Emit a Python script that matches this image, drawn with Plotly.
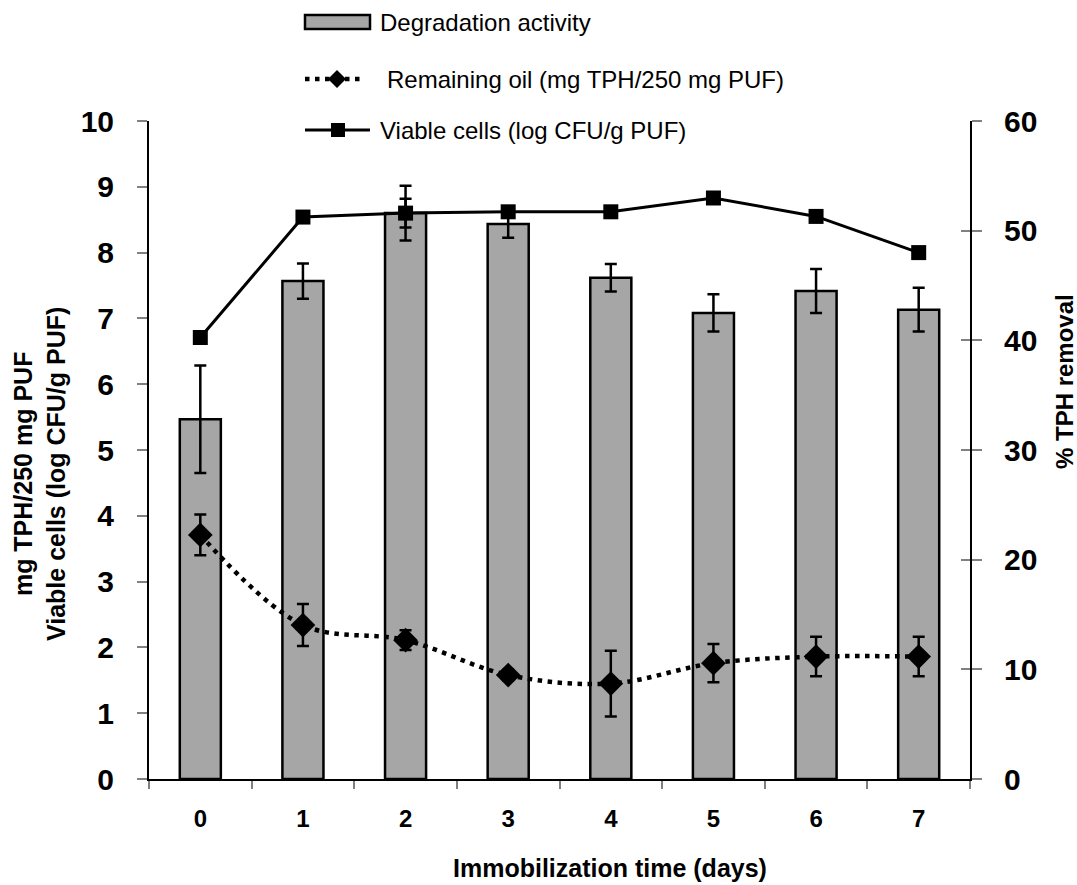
import plotly.graph_objects as go

# Immobilization time (days)
days = ["0", "1", "2", "3", "4", "5", "6", "7"]

# Degradation activity (% TPH removal) with standard deviations
removal = [32.8, 45.4, 51.6, 50.6, 45.7, 42.5, 44.5, 42.8]
removal_sd = [4.9, 1.6, 2.5, 1.25, 1.25, 1.7, 2.0, 2.0]

# Remaining oil (mg TPH/250 mg PUF)
oil = [3.71, 2.34, 2.11, 1.58, 1.45, 1.76, 1.86, 1.86]
oil_sd = [0.31, 0.32, 0.15, 0.08, 0.50, 0.29, 0.30, 0.30]

# Viable cells (log CFU/g PUF)
cells = [6.71, 8.54, 8.60, 8.62, 8.62, 8.83, 8.55, 8.00]
cells_sd = [0.0, 0.0, 0.22, 0.0, 0.0, 0.08, 0.0, 0.0]

legend_labels = [
    "Degradation activity",
    "Remaining oil (mg TPH/250 mg PUF)",
    "Viable cells (log CFU/g PUF)",
]

W, H = 1077, 885
L, R, T, B = 149, 970, 121, 779  # plot area edges in pixels
FONT = "Liberation Sans, Arial, sans-serif"


def fx(px):
    return (px - L) / (R - L)


def fy(py):
    return (B - py) / (B - T)


fig = go.Figure()

# Bars on the base (right-hand) axis so the line series stay on top
fig.add_trace(go.Bar(
    x=days, y=removal, width=0.4,
    marker=dict(color="#a6a6a6", line=dict(color="black", width=2.5)),
    error_y=dict(type="data", array=removal_sd, color="black", thickness=2.5, width=6),
    xaxis="x", yaxis="y", showlegend=False,
))

fig.add_trace(go.Scatter(
    x=days, y=oil, mode="lines+markers",
    line=dict(color="black", width=4.5, dash="4.5px,5.5px", shape="spline", smoothing=1.0),
    marker=dict(symbol="diamond", size=19, color="black"),
    error_y=dict(type="data", array=oil_sd, color="black", thickness=2.5, width=6),
    xaxis="x", yaxis="y2", showlegend=False,
))

fig.add_trace(go.Scatter(
    x=days, y=cells, mode="lines+markers",
    line=dict(color="black", width=3),
    marker=dict(symbol="square", size=15, color="black"),
    error_y=dict(type="data", array=cells_sd, color="black", thickness=2.5, width=6),
    xaxis="x", yaxis="y2", showlegend=False,
))

# Empty trace that carries the inner tick marks of the right axis
fig.add_trace(go.Scatter(x=[], y=[], xaxis="x", yaxis="y3", showlegend=False, hoverinfo="skip"))

tick_font_y = dict(family=FONT, size=30, color="black", weight="bold")

fig.update_layout(
    width=W, height=H,
    margin=dict(l=L, r=W - R, t=T, b=H - B, pad=0),
    paper_bgcolor="white", plot_bgcolor="white",
    showlegend=False,
    bargap=0.6,
    xaxis=dict(
        type="category", range=[-0.5, 7.5],
        tickson="boundaries", ticks="outside", ticklen=8, tickwidth=1.5, tickcolor="#808080",
        showline=True, linecolor="black", linewidth=2,
        showgrid=False, zeroline=False,
        tickfont=dict(family=FONT, size=24, color="black", weight="bold"),
        ticklabelstandoff=17,
    ),
    yaxis=dict(
        side="right", range=[0, 60], dtick=10,
        ticks="outside", ticklen=10, tickwidth=1.5, tickcolor="#808080",
        showline=True, linecolor="black", linewidth=2,
        showgrid=False, zeroline=False,
        tickfont=tick_font_y, ticklabelstandoff=16,
    ),
    yaxis2=dict(
        overlaying="y", side="left", range=[0, 10], dtick=1,
        ticks="outside", ticklen=10, tickwidth=1.5, tickcolor="#808080",
        showline=True, linecolor="black", linewidth=2,
        showgrid=False, zeroline=False,
        tickfont=tick_font_y, ticklabelstandoff=17,
    ),
    yaxis3=dict(
        overlaying="y", side="right", range=[0, 60], dtick=10,
        ticks="inside", ticklen=9, tickwidth=1.5, tickcolor="#808080",
        showticklabels=False, showline=False, showgrid=False, zeroline=False,
    ),
)

annotations = [
    dict(text="Immobilization time (days)", x=fx(610), y=fy(868),
         font=dict(family=FONT, size=25, color="black", weight="bold")),
    dict(text="mg TPH/250 mg PUF<br>Viable cells (log CFU/g PUF)", x=fx(39), y=fy(474),
         textangle=-90, font=dict(family=FONT, size=25, color="black", weight="bold")),
    dict(text="% TPH removal", x=fx(1064), y=fy(382),
         textangle=-90, font=dict(family=FONT, size=24, color="black", weight="bold")),
]
for a in annotations:
    a.update(xref="paper", yref="paper", showarrow=False, xanchor="center", yanchor="middle")

# Legend rows: symbol sample followed by its label
row_y = [22, 79, 130]
text_x = [378, 385, 378]
for label, yy, xx in zip(legend_labels, row_y, text_x):
    annotations.append(dict(
        text=label, x=fx(xx), y=fy(yy), xref="paper", yref="paper", showarrow=False,
        xanchor="left", yanchor="middle",
        font=dict(family=FONT, size=24, color="black"),
    ))

shapes = [
    dict(type="rect", xref="paper", yref="paper", x0=fx(305), x1=fx(370), y0=fy(29), y1=fy(15),
         fillcolor="#a6a6a6", line=dict(color="black", width=2.5)),
    dict(type="line", xref="paper", yref="paper", x0=fx(305), x1=fx(365), y0=fy(79), y1=fy(79),
         line=dict(color="black", width=4.5, dash="4.5px,5.5px")),
    dict(type="path", xref="paper", yref="paper", xsizemode="pixel", ysizemode="pixel",
         xanchor=fx(337), yanchor=fy(79), path="M 0,9 L 9,0 L 0,-9 L -9,0 Z",
         fillcolor="black", line=dict(color="black", width=0)),
    dict(type="line", xref="paper", yref="paper", x0=fx(305), x1=fx(370), y0=fy(130), y1=fy(130),
         line=dict(color="black", width=3)),
    dict(type="path", xref="paper", yref="paper", xsizemode="pixel", ysizemode="pixel",
         xanchor=fx(338), yanchor=fy(130), path="M -7,-7 L 7,-7 L 7,7 L -7,7 Z",
         fillcolor="black", line=dict(color="black", width=0)),
]

fig.update_layout(annotations=annotations, shapes=shapes)

fig.write_html("out.html")
